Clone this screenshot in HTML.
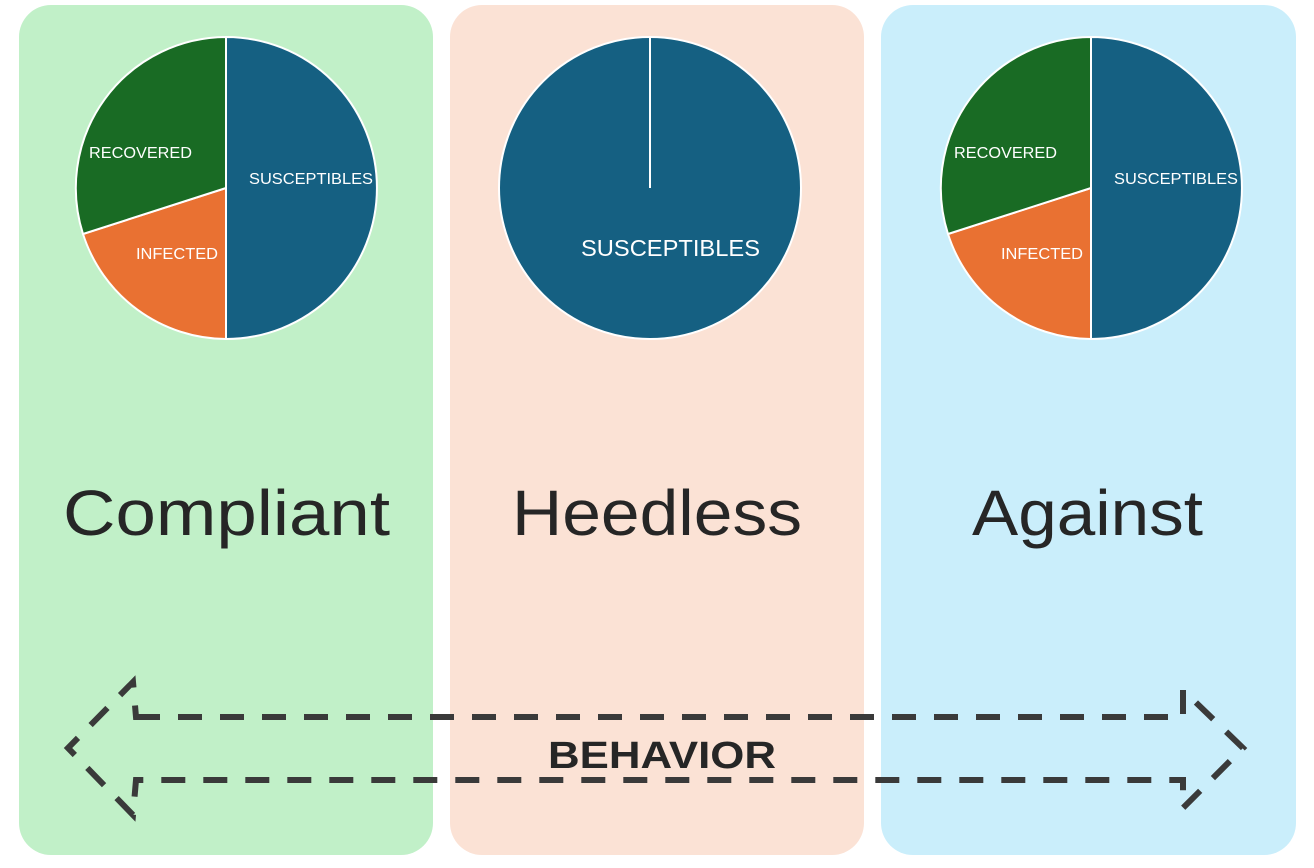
<!DOCTYPE html>
<html><head><style>
html,body{margin:0;padding:0;background:#fff;width:1314px;height:868px;overflow:hidden}
</style></head><body>
<svg width="1314" height="868" xmlns="http://www.w3.org/2000/svg" font-family="Liberation Sans, sans-serif">
<rect x="19" y="5" width="414" height="850" rx="32" fill="#c1f0c8"/>
<rect x="450" y="5" width="414" height="850" rx="32" fill="#fbe2d5"/>
<rect x="881" y="5" width="415" height="850" rx="32" fill="#caeefb"/>

<g stroke="#fff" stroke-width="2">
<path d="M226,188 L226,37 A151,151 0 0 1 226,339 Z" fill="#156082"/>
<path d="M226,188 L226,339 A151,151 0 0 1 83,234 Z" fill="#e97132"/>
<path d="M226,188 L83,234 A151,151 0 0 1 226,37 Z" fill="#196b24"/>
</g>
<g fill="#fff" font-size="16">
<text x="89" y="158" textLength="103" lengthAdjust="spacingAndGlyphs">RECOVERED</text>
<text x="249" y="184" textLength="124" lengthAdjust="spacingAndGlyphs">SUSCEPTIBLES</text>
<text x="136" y="259" textLength="82" lengthAdjust="spacingAndGlyphs">INFECTED</text>
</g>

<circle cx="650" cy="188" r="151" fill="#156082" stroke="#fff" stroke-width="2"/>
<line x1="650" y1="37" x2="650" y2="188" stroke="#fff" stroke-width="2"/>
<text x="581" y="256" fill="#fff" font-size="23" textLength="179" lengthAdjust="spacingAndGlyphs">SUSCEPTIBLES</text>

<g stroke="#fff" stroke-width="2">
<path d="M1091,188 L1091,37 A151,151 0 0 1 1091,339 Z" fill="#156082"/>
<path d="M1091,188 L1091,339 A151,151 0 0 1 948,234 Z" fill="#e97132"/>
<path d="M1091,188 L948,234 A151,151 0 0 1 1091,37 Z" fill="#196b24"/>
</g>
<g fill="#fff" font-size="16">
<text x="954" y="158" textLength="103" lengthAdjust="spacingAndGlyphs">RECOVERED</text>
<text x="1114" y="184" textLength="124" lengthAdjust="spacingAndGlyphs">SUSCEPTIBLES</text>
<text x="1001" y="259" textLength="82" lengthAdjust="spacingAndGlyphs">INFECTED</text>
</g>

<g fill="#262626" font-size="64">
<text x="63" y="535" textLength="327" lengthAdjust="spacingAndGlyphs">Compliant</text>
<text x="512" y="535" textLength="290" lengthAdjust="spacingAndGlyphs">Heedless</text>
<text x="972" y="535" textLength="231" lengthAdjust="spacingAndGlyphs">Against</text>
</g>

<path d="M136,717 L1183,717 L1183,690 L1243,748 L1183,808 L1183,780 L136,780 L133,815 L68,748 L133,682 Z"
 fill="none" stroke="#3a3a3a" stroke-width="6" stroke-dasharray="24,18"/>
<text x="548" y="768" font-size="38" font-weight="bold" fill="#262626" textLength="228" lengthAdjust="spacingAndGlyphs">BEHAVIOR</text>
</svg>
</body></html>
